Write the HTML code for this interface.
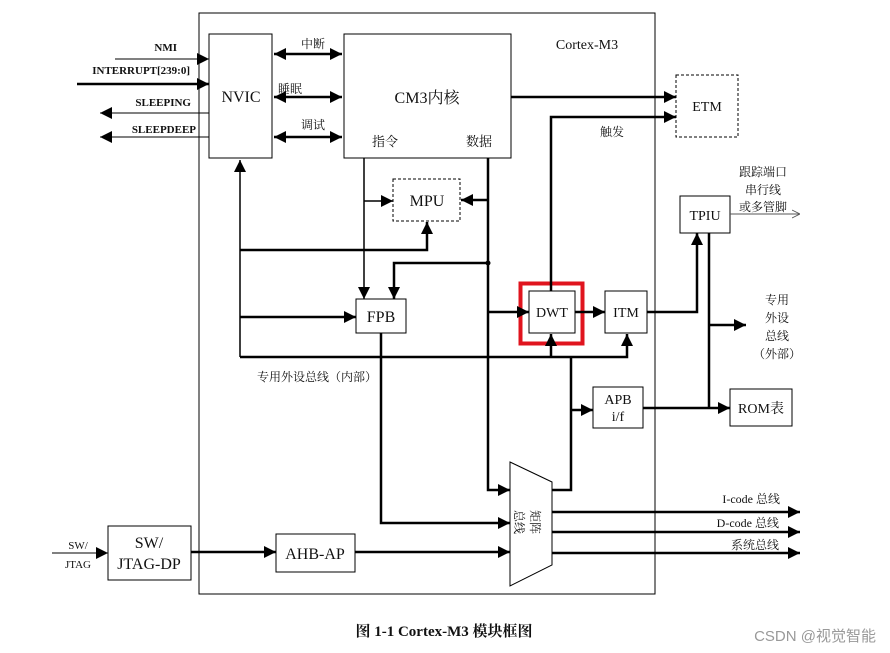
<!DOCTYPE html>
<html><head><meta charset="utf-8"><style>
html,body{margin:0;padding:0;background:#fff;}
svg{display:block;}
text{font-family:"Liberation Serif","Noto Serif CJK SC",serif;fill:#111;}
.c{font-family:"Liberation Serif","Noto Serif CJK SC",serif;fill:#333;}
</style></head><body>
<svg width="890" height="653" viewBox="0 0 890 653" xmlns="http://www.w3.org/2000/svg">
<defs>
<marker id="a" viewBox="0 0 10 10" refX="10" refY="5" markerWidth="7" markerHeight="6" markerUnits="userSpaceOnUse" orient="auto-start-reverse"><path d="M0,0L10,5L0,10z" fill="#000"/></marker>
<marker id="b" viewBox="0 0 10 10" refX="10" refY="5" markerWidth="16" markerHeight="12" markerUnits="userSpaceOnUse" orient="auto-start-reverse"><path d="M0,0L10,5L0,10z" fill="#000"/></marker>
<marker id="o" viewBox="0 0 10 10" refX="10" refY="5" markerWidth="8" markerHeight="10" markerUnits="userSpaceOnUse" orient="auto"><path d="M0,0L10,5L0,10" fill="none" stroke="#555" stroke-width="1.2"/></marker>
</defs>
<g fill="none" stroke="#000">
<rect x="199" y="13" width="456" height="581" stroke-width="1"/>
<rect x="209" y="34" width="63" height="124" stroke-width="1"/>
<rect x="344" y="34" width="167" height="124" stroke-width="1"/>
<rect x="393" y="179" width="67" height="42" stroke-dasharray="3,2"/>
<rect x="356" y="299" width="50" height="34"/>
<rect x="529" y="291" width="46" height="42"/>
<rect x="520.5" y="283.5" width="62" height="60" stroke="#e0141e" stroke-width="4"/>
<rect x="605" y="291" width="42" height="42"/>
<rect x="676" y="75" width="62" height="62" stroke-dasharray="3,2"/>
<rect x="680" y="196" width="50" height="37"/>
<rect x="593" y="387" width="50" height="41"/>
<rect x="730" y="389" width="62" height="37"/>
<rect x="108" y="526" width="83" height="54"/>
<rect x="276" y="534" width="79" height="38"/>
<path d="M510,462L552,482L552,565L510,586Z" stroke-width="1"/>
</g>
<g fill="none" stroke="#000" stroke-width="2.5">
<line x1="115" y1="59" x2="209" y2="59" stroke-width="1" marker-end="url(#b)"/>
<line x1="77" y1="84" x2="209" y2="84" marker-end="url(#b)"/>
<line x1="209" y1="113" x2="100" y2="113" stroke-width="1" marker-end="url(#b)"/>
<line x1="209" y1="137" x2="100" y2="137" stroke-width="1" marker-end="url(#b)"/>
<line x1="274" y1="54" x2="342" y2="54" marker-start="url(#b)" marker-end="url(#b)"/>
<line x1="274" y1="97" x2="342" y2="97" marker-start="url(#b)" marker-end="url(#b)"/>
<line x1="274" y1="137" x2="342" y2="137" marker-start="url(#b)" marker-end="url(#b)"/>
<line x1="240" y1="357" x2="240" y2="160" stroke-width="1.5" marker-end="url(#b)"/>
<polyline points="240,250 427,250 427,222" marker-end="url(#b)"/>
<line x1="240" y1="317" x2="356" y2="317" marker-end="url(#b)"/>
<polyline points="240,357 627,357 627,334" marker-end="url(#b)"/>
<line x1="551" y1="357" x2="551" y2="334" marker-end="url(#b)"/>
<line x1="364" y1="158" x2="364" y2="299" stroke-width="1.5" marker-end="url(#b)"/>
<line x1="364" y1="201" x2="393" y2="201" stroke-width="1.5" marker-end="url(#b)"/>
<polyline points="488,158 488,490 510,490" marker-end="url(#b)"/>
<line x1="488" y1="200" x2="461" y2="200" marker-end="url(#b)"/>
<polyline points="488,263 394,263 394,299" marker-end="url(#b)"/>
<line x1="488" y1="312" x2="529" y2="312" marker-end="url(#b)"/>
<polyline points="381,333 381,523 510,523" marker-end="url(#b)"/>
<line x1="191" y1="552" x2="276" y2="552" marker-end="url(#b)"/>
<line x1="355" y1="552" x2="510" y2="552" marker-end="url(#b)"/>
<line x1="52" y1="553" x2="108" y2="553" stroke-width="1" marker-end="url(#b)"/>
<polyline points="552,490 571,490 571,357"/>
<line x1="571" y1="410" x2="593" y2="410" marker-end="url(#b)"/>
<polyline points="551,291 551,117 676,117" marker-end="url(#b)"/>
<line x1="511" y1="97" x2="676" y2="97" marker-end="url(#b)"/>
<line x1="575" y1="312" x2="605" y2="312" marker-end="url(#b)"/>
<polyline points="647,312 697,312 697,233" marker-end="url(#b)"/>
<line x1="709" y1="233" x2="709" y2="408"/>
<line x1="709" y1="325" x2="746" y2="325" marker-end="url(#b)"/>
<line x1="643" y1="408" x2="730" y2="408" marker-end="url(#b)"/>
<line x1="552" y1="512" x2="800" y2="512" marker-end="url(#b)"/>
<line x1="552" y1="532" x2="800" y2="532" marker-end="url(#b)"/>
<line x1="552" y1="553" x2="800" y2="553" marker-end="url(#b)"/>
</g>
<line x1="730" y1="214" x2="800" y2="214" stroke="#555" stroke-width="1" marker-end="url(#o)"/>
<circle cx="488" cy="263" r="2.5" fill="#000"/>
<g font-size="11" font-weight="bold" text-anchor="end">
<text x="177" y="51">NMI</text>
<text x="190" y="74">INTERRUPT[239:0]</text>
<text x="191" y="106">SLEEPING</text>
<text x="196" y="133">SLEEPDEEP</text>
</g>
<g font-size="16" text-anchor="middle">
<text x="241" y="102">NVIC</text>
<text x="427" y="103">CM3内核</text>
<text x="427" y="206">MPU</text>
<text x="381" y="322">FPB</text>
<text x="552" y="317" font-size="14">DWT</text>
<text x="626" y="317" font-size="14">ITM</text>
<text x="707" y="111" font-size="14">ETM</text>
<text x="705" y="220" font-size="14">TPIU</text>
<text x="618" y="404" font-size="14">APB</text>
<text x="618" y="421" font-size="14">i/f</text>
<text x="761" y="413" font-size="14">ROM表</text>
<text x="149" y="548">SW/</text>
<text x="149" y="569">JTAG-DP</text>
<text x="315" y="559">AHB-AP</text>
<text x="587" y="49" font-size="14">Cortex-M3</text>
</g>
<g font-size="13" class="c">
<text x="372" y="146">指令</text>
<text x="466" y="146">数据</text>
</g>
<g font-size="12" class="c" text-anchor="middle">
<text x="313" y="48">中断</text>
<text x="290" y="93">睡眠</text>
<text x="313" y="129">调试</text>
<text x="612" y="136">触发</text>
<text x="763" y="176">跟踪端口</text>
<text x="763" y="194">串行线</text>
<text x="763" y="211">或多管脚</text>
<text x="777" y="304">专用</text>
<text x="777" y="322">外设</text>
<text x="777" y="340">总线</text>
<text x="777" y="358">（外部）</text>
<text x="317" y="381">专用外设总线（内部）</text>
<text x="78" y="549" font-size="11">SW/</text>
<text x="78" y="568" font-size="11">JTAG</text>
</g>
<g font-size="12" class="c" text-anchor="end">
<text x="780" y="503">I-code 总线</text>
<text x="779" y="527">D-code 总线</text>
<text x="779" y="549">系统总线</text>
</g>
<g font-size="12" class="c">
<text transform="translate(515,510) rotate(90)">总线</text>
<text transform="translate(531,510) rotate(90)">矩阵</text>
</g>
<text x="444" y="636" font-size="15" font-weight="bold" text-anchor="middle">图 1-1 Cortex-M3 模块框图</text>
<text x="876" y="641" font-size="15" text-anchor="end" style="font-family:'Liberation Sans','Noto Sans CJK SC',sans-serif;fill:#999">CSDN @视觉智能</text>
</svg>
</body></html>
